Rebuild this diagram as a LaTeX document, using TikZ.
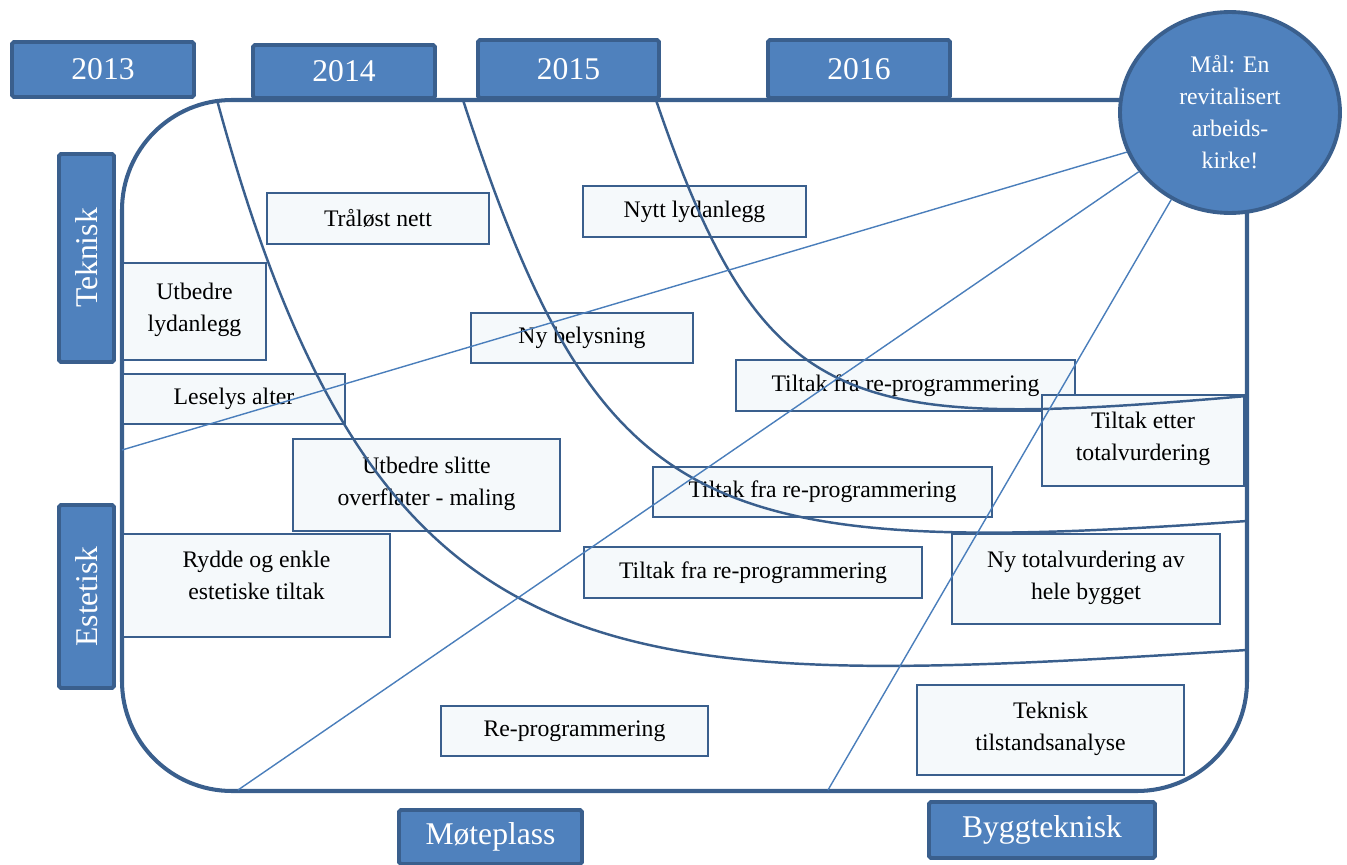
\documentclass[tikz,border=0pt]{standalone}
\usepackage{fontspec}
\setmainfont{Liberation Serif}
\usepackage{tikz}
\usetikzlibrary{positioning,shapes.geometric}
\definecolor{HeadBlue}{HTML}{4F81BD}
\definecolor{EdgeBlue}{HTML}{3A5F8D}
\definecolor{LineBlue}{HTML}{4A7EBB}
\definecolor{BoxFill}{HTML}{F5F9FB}

\begin{document}
\begin{tikzpicture}[
      x=0.02cm, y=-0.02cm,
      every node/.style={align=center, font=\fontsize{13.5}{18.2}\selectfont},
      head/.style={draw=EdgeBlue, fill=HeadBlue, line width=2.2pt, rounded corners=1pt, text=white, inner sep=0pt, font=\fontsize{18}{22}\selectfont},
      box/.style={draw=EdgeBlue, fill=BoxFill, line width=1.1pt, inner sep=0pt},
      goal/.style={ellipse, draw=EdgeBlue, fill=HeadBlue, line width=2.2pt, text=white, inner sep=0pt},
      frame/.style={draw=EdgeBlue, line width=2.3pt, rounded corners=2.2cm},
      phase/.style={EdgeBlue, line width=1.4pt},
      link/.style={LineBlue, line width=0.8pt}
    ]
      \useasboundingbox (0,0) rectangle (1347,865);
      % Frame
      \draw[frame] (122,100) rectangle (1247,791);
      % Year and area headers
      \node[head, minimum width=3.64cm, minimum height=1.10cm] (y2013) at (103,69.5) {2013};
      \node[head, minimum width=3.64cm, minimum height=1.06cm] (y2014) at (344,71.5) {2014};
      \node[head, minimum width=3.62cm, minimum height=1.16cm] (y2015) at (568.5,69) {2015};
      \node[head, minimum width=3.64cm, minimum height=1.16cm] (y2016) at (859,69) {2016};
      \node[head, rotate=90, minimum width=4.16cm, minimum height=1.10cm] (teknisk) at (86.5,258) {Teknisk};
      \node[head, rotate=90, minimum width=3.66cm, minimum height=1.10cm] (estetisk) at (86.5,596.5) {Estetisk};
      \node[head, minimum width=3.66cm, minimum height=1.08cm] (moteplass) at (490.5,837) {Møteplass};
      \node[head, minimum width=4.52cm, minimum height=1.12cm] (bygg) at (1042,830) {Byggteknisk};
      % Measures
      \node[box, minimum width=4.44cm, minimum height=1.02cm] (tradlos) at (378,218.5) {Tråløst nett};
      \node[box, minimum width=4.46cm, minimum height=1.02cm] (nyttlyd) at (694.5,211.5) {Nytt lydanlegg};
      \node[box, minimum width=2.86cm, minimum height=1.94cm, text depth=0.16cm] (utblyd) at (194.5,311.5) {Utbedre\\lydanlegg};
      \node[box, minimum width=4.44cm, minimum height=1.00cm] (belys) at (582,338) {Ny belysning};
      \node[box, minimum width=4.44cm, minimum height=1.00cm] (leselys) at (234,399) {Leselys alter};
      \node[box, minimum width=6.78cm, minimum height=1.02cm] (tiltakA) at (905.5,385.5) {Tiltak fra re-programmering};
      \node[box, minimum width=4.04cm, minimum height=1.82cm, text depth=0.16cm] (etter) at (1143,440.5) {Tiltak etter\\totalvurdering};
      \node[box, minimum width=5.34cm, minimum height=1.84cm, text depth=0.16cm] (slitte) at (426.5,485) {Utbedre slitte\\overflater - maling};
      \node[box, minimum width=6.78cm, minimum height=1.00cm] (tiltakB) at (822.5,492) {Tiltak fra re-programmering};
      \node[box, minimum width=5.34cm, minimum height=2.06cm, text depth=0.42cm] (rydde) at (256.5,585.5) {Rydde og enkle\\estetiske tiltak};
      \node[box, minimum width=6.76cm, minimum height=1.02cm] (tiltakC) at (753,572.5) {Tiltak fra re-programmering};
      \node[box, minimum width=5.36cm, minimum height=1.80cm, text depth=0.16cm] (nytotal) at (1086,579) {Ny totalvurdering av\\hele bygget};
      \node[box, minimum width=5.34cm, minimum height=1.00cm] (reprog) at (574.5,731) {Re-programmering};
      \node[box, minimum width=5.34cm, minimum height=1.80cm, text depth=0.16cm] (tilstand) at (1050.5,730) {Teknisk\\tilstandsanalyse};
      % Goal
      \node[goal, minimum width=4.40cm, minimum height=4.02cm] (goal) at (1230,112.5) {Mål: En\\revitalisert\\arbeids-\\kirke!};
      % Phase curves
      \coordinate (a0) at (217,100);  \coordinate (a1) at (1247,650);
      \coordinate (b0) at (463,100);  \coordinate (b1) at (1247,521);
      \coordinate (c0) at (656,100);  \coordinate (c1) at (1247,396);
      \draw[phase] (a0) .. controls (380,700) and (610,690) .. (a1);
      \draw[phase] (b0) .. controls (600,520) and (700,560) .. (b1);
      \draw[phase] (c0) .. controls (765,420) and (850,430) .. (c1);
      % Links to goal
      \coordinate (l1) at (122,450);
      \coordinate (l2) at (238,790);
      \coordinate (l3) at (828,790);
      \draw[link] (goal.-159) -- (l1);
      \draw[link] (goal.-147) -- (l2);
      \draw[link] (goal.-124) -- (l3);
    \end{tikzpicture}
\end{document}
